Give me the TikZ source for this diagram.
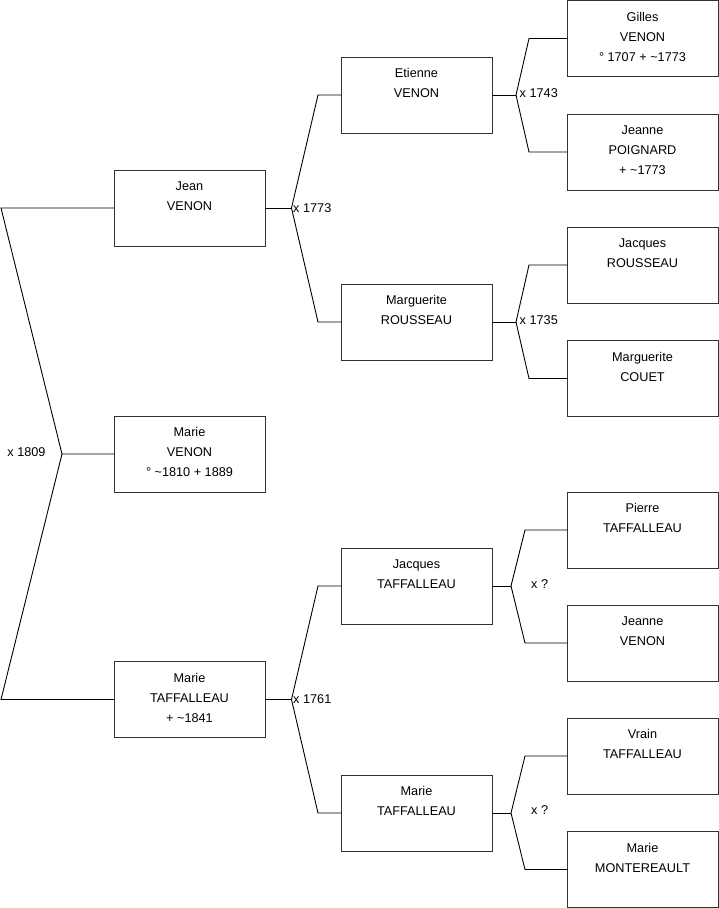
\documentclass[tikz,border=0pt]{standalone}
\usepackage{fontspec}
\setmainfont{Liberation Sans}
\newcommand\boxtext[1]{\parbox[c][76pt][t]{151pt}{\centering\baselineskip=20pt\rule{0pt}{20.5pt}#1}}
\begin{document}
\begin{tikzpicture}[x=1pt,y=-1pt,
  person/.style={draw=black!80, line width=0.9pt, fill=white, inner sep=0pt, outer sep=0pt,
     font=\fontsize{12.7pt}{20pt}\selectfont},
  lbl/.style={inner sep=0pt, font=\fontsize{12.7pt}{14pt}\selectfont},
  link/.style={draw=black, line width=0.9pt}]
\useasboundingbox (0,0) rectangle (719,908);
% generation 1
\node[person] (jean) at (189.5,208) {\boxtext{Jean\\VENON}};
\node[person] (mv) at (189.5,454) {\boxtext{Marie\\VENON\\° \textasciitilde1810 + 1889}};
\node[person] (mt) at (189.5,699.5) {\boxtext{Marie\\TAFFALLEAU\\+ \textasciitilde1841}};
% generation 2
\node[person] (et) at (416.5,95) {\boxtext{Etienne\\VENON}};
\node[person] (mr) at (416.5,322) {\boxtext{Marguerite\\ROUSSEAU}};
\node[person] (jt) at (416.5,586) {\boxtext{Jacques\\TAFFALLEAU}};
\node[person] (mt2) at (416.5,813) {\boxtext{Marie\\TAFFALLEAU}};
% generation 3
\node[person] (gv) at (642.5,38.5) {\boxtext{Gilles\\VENON\\° 1707 + \textasciitilde1773}};
\node[person] (jp) at (642.5,152) {\boxtext{Jeanne\\POIGNARD\\+ \textasciitilde1773}};
\node[person] (jr) at (642.5,265) {\boxtext{Jacques\\ROUSSEAU}};
\node[person] (mc) at (642.5,378.5) {\boxtext{Marguerite\\COUET}};
\node[person] (pt) at (642.5,530) {\boxtext{Pierre\\TAFFALLEAU}};
\node[person] (jv) at (642.5,643) {\boxtext{Jeanne\\VENON}};
\node[person] (vt) at (642.5,756) {\boxtext{Vrain\\TAFFALLEAU}};
\node[person] (mm) at (642.5,869.5) {\boxtext{Marie\\MONTEREAULT}};
% junctions
\coordinate (k0) at (62,454);
\coordinate (k1) at (291.5,208);
\coordinate (k2) at (291.5,699.5);
\coordinate (k3) at (516,95);
\coordinate (k4) at (516,322);
\coordinate (k5) at (511,586);
\coordinate (k6) at (511,813);
% connectors
\draw[link] (jean.west) -- (1,208) -- (k0) -- (mv.west);
\draw[link] (k0) -- (1,699.5) -- (mt.west);
\draw[link] (jean.east) -- (k1);
\draw[link] (k1) -- ([xshift=-23pt]et.west) -- (et.west);
\draw[link] (k1) -- ([xshift=-23pt]mr.west) -- (mr.west);
\draw[link] (mt.east) -- (k2);
\draw[link] (k2) -- ([xshift=-23pt]jt.west) -- (jt.west);
\draw[link] (k2) -- ([xshift=-23pt]mt2.west) -- (mt2.west);
\draw[link] (et.east) -- (k3);
\draw[link] (k3) -- ([xshift=-38pt]gv.west) -- (gv.west);
\draw[link] (k3) -- ([xshift=-38pt]jp.west) -- (jp.west);
\draw[link] (mr.east) -- (k4);
\draw[link] (k4) -- ([xshift=-38pt]jr.west) -- (jr.west);
\draw[link] (k4) -- ([xshift=-38pt]mc.west) -- (mc.west);
\draw[link] (jt.east) -- (k5);
\draw[link] (k5) -- ([xshift=-42pt]pt.west) -- (pt.west);
\draw[link] (k5) -- ([xshift=-42pt]jv.west) -- (jv.west);
\draw[link] (mt2.east) -- (k6);
\draw[link] (k6) -- ([xshift=-42pt]vt.west) -- (vt.west);
\draw[link] (k6) -- ([xshift=-42pt]mm.west) -- (mm.west);
% labels
\node[lbl] (l0) at (26.5,452) {x 1809};
\node[lbl, anchor=west] (l1) at (293,208) {x 1773};
\node[lbl, anchor=west] (l2) at (293,699.5) {x 1761};
\node[lbl, anchor=west] (l3) at (519.5,93) {x 1743};
\node[lbl, anchor=west] (l4) at (519.5,320) {x 1735};
\node[lbl, anchor=west] (l5) at (531,584) {x ?};
\node[lbl, anchor=west] (l6) at (531,810) {x ?};
\end{tikzpicture}
\end{document}
